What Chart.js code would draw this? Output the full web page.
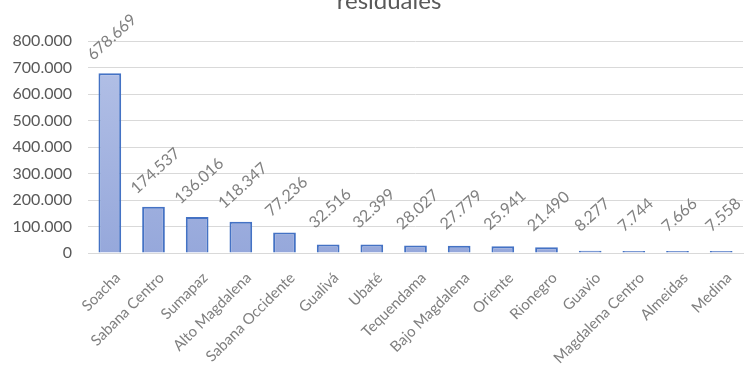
<!DOCTYPE html>
<html>
<head>
<meta charset="utf-8">
<script src="https://cdn.jsdelivr.net/npm/chart.js@4/dist/chart.umd.min.js"></script>
<style>
  html, body { margin: 0; padding: 0; background: #fff; }
  #wrap { width: 749px; height: 369px; position: relative; }
</style>
</head>
<body>
<div id="wrap"><canvas id="c"></canvas></div>
<script>
var provincias = ['Soacha', 'Sabana Centro', 'Sumapaz', 'Alto Magdalena', 'Sabana Occidente', 'Gualivá', 'Ubaté',
                  'Tequendama', 'Bajo Magdalena', 'Oriente', 'Rionegro', 'Guavio', 'Magdalena Centro', 'Almeidas', 'Medina'];
var residuos = [678669, 174537, 136016, 118347, 77236, 32516, 32399, 28027, 27779, 25941, 21490, 8277, 7744, 7666, 7558];
var yTicks = [0, 100000, 200000, 300000, 400000, 500000, 600000, 700000, 800000];
var titulo = 'residuales';

function miles( v ){
    return String( v ).replace( /\B(?=(\d{3})+(?!\d))/g, '.' );
}

// etiquetas de datos giradas sobre cada barra
var etiquetas = {
    id: 'etiquetas',
    afterDatasetsDraw: function( chart ){
        var ctx = chart.ctx,
            meta = chart.getDatasetMeta( 0 );
        ctx.save();
        ctx.font = '16px Lato';
        ctx.fillStyle = '#808080';
        ctx.textAlign = 'center';
        ctx.textBaseline = 'middle';
        meta.data.forEach( function( bar, i ){
            ctx.save();
            ctx.translate( bar.x + 2, bar.y - 36 );
            ctx.rotate( -42 * Math.PI / 180 );
            ctx.fillText( miles( residuos[ i ] ), 0, 0 );
            ctx.restore();
        } );
        ctx.restore();
    }
};

// titulo cortado arriba, como en la imagen
var tituloCortado = {
    id: 'tituloCortado',
    afterDraw: function( chart ){
        var ctx = chart.ctx;
        ctx.save();
        ctx.font = '24px Lato';
        ctx.fillStyle = '#595959';
        ctx.textAlign = 'center';
        ctx.textBaseline = 'alphabetic';
        ctx.fillText( titulo, 389, 9 );
        ctx.restore();
    }
};

var ctx = document.getElementById( 'c' ).getContext( '2d' );
var grad = ctx.createLinearGradient( 0, 41, 0, 253 );
grad.addColorStop( 0, '#b5c2e7' );
grad.addColorStop( 1, '#96a8db' );

new Chart( ctx, {
    type: 'bar',
    data: {
        labels: provincias,
        datasets: [ {
            data: residuos,
            backgroundColor: grad,
            borderColor: '#4472c4',
            borderWidth: 2,
            barPercentage: 0.52,
            categoryPercentage: 1
        } ]
    },
    options: {
        responsive: true,
        maintainAspectRatio: false,
        animation: false,
        layout: { padding: { top: 41, left: 0, right: 6, bottom: 0 } },
        plugins: { legend: { display: false }, tooltip: { enabled: false }, title: { display: false } },
        scales: {
            x: {
                grid: { display: false },
                border: { color: '#d9d9d9', width: 1 },
                ticks: {
                    minRotation: 45, maxRotation: 45,
                    color: '#7f7f7f',
                    font: { family: 'Lato', size: 15 },
                    padding: 8,
                    labelOffset: 8
                },
                afterFit: function( s ){ s.height = 116; }
            },
            y: {
                min: 0, max: 800000,
                afterBuildTicks: function( s ){ s.ticks = yTicks.map( function( v ){ return { value: v }; } ); },
                grid: { color: '#d9d9d9', lineWidth: 1, drawTicks: false },
                border: { display: false },
                ticks: {
                    color: '#595959',
                    font: { family: 'Lato', size: 16 },
                    padding: 16,
                    callback: function( v ){ return miles( v ); }
                },
                afterFit: function( s ){ s.width = 88; }
            }
        }
    },
    plugins: [ etiquetas, tituloCortado ]
} );
</script>
</body>
</html>
